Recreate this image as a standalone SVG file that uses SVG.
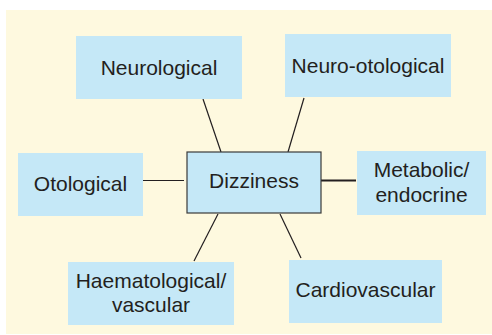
<svg xmlns="http://www.w3.org/2000/svg" width="492" height="335" viewBox="0 0 492 335">
<style>
.box{fill:#c5e8f7;}
.center{fill:#c5e8f7;stroke:#3a3a3a;stroke-width:1.2;}
.t{font-family:"Liberation Sans",Arial,sans-serif;font-size:21px;fill:#231f20;text-anchor:middle;}
.c line{stroke:#231f20;stroke-width:1.2;}
</style>
<rect x="6" y="10" width="486" height="324" fill="#fef9df"/>
<g class="c" id="connectors">
<line x1="203" y1="99" x2="221" y2="152"/>
<line x1="304" y1="98" x2="288" y2="152"/>
<line x1="143" y1="180.5" x2="184" y2="180.5"/>
<line x1="321" y1="180.5" x2="356" y2="180.5" style="stroke-width:2.2"/>
<line x1="218" y1="214" x2="194" y2="261"/>
<line x1="280" y1="214" x2="301" y2="258"/>
</g>
<g id="neurological"><rect class="box" x="76" y="36" width="166" height="63"/><text class="t" x="159" y="74.5">Neurological</text></g>
<g id="neuro-otological"><rect class="box" x="285" y="34" width="166" height="63"/><text class="t" x="368" y="72.5">Neuro-otological</text></g>
<g id="otological"><rect class="box" x="18" y="153" width="125" height="63"/><text class="t" x="80.5" y="190.5">Otological</text></g>
<g id="dizziness"><rect class="center" x="187" y="152" width="134" height="61"/><text class="t" x="254" y="188">Dizziness</text></g>
<g id="metabolic"><rect class="box" x="357" y="151" width="129" height="64"/><text class="t" x="421.5" y="176.5">Metabolic/</text><text class="t" x="421.5" y="201.5">endocrine</text></g>
<g id="haematological"><rect class="box" x="68" y="262" width="166" height="63"/><text class="t" x="151" y="288">Haematological/</text><text class="t" x="151" y="311.5">vascular</text></g>
<g id="cardiovascular"><rect class="box" x="289" y="260" width="153" height="63"/><text class="t" x="365.5" y="297">Cardiovascular</text></g>
</svg>
